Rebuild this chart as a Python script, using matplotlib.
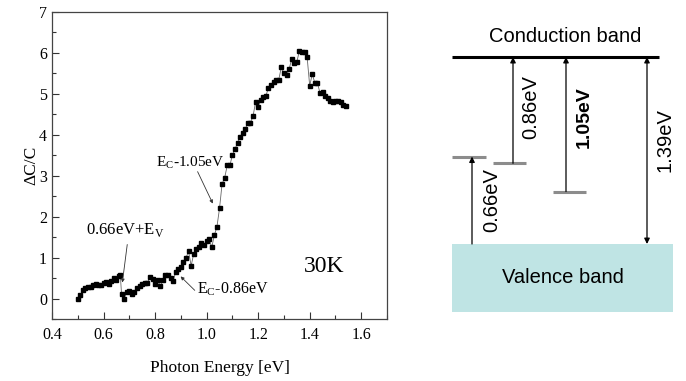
import numpy as np
import matplotlib
matplotlib.use("Agg")
import matplotlib.pyplot as plt
from matplotlib.patches import Rectangle
from matplotlib.ticker import MultipleLocator

# ---- spectrum (30K) ------------------------------------------------------
energy = [0.50, 0.51, 0.52, 0.53, 0.54, 0.55, 0.56, 0.57, 0.58, 0.59,
          0.60, 0.61, 0.62, 0.63, 0.64, 0.65, 0.66, 0.665, 0.67, 0.68,
          0.69, 0.70, 0.71, 0.72, 0.73, 0.74, 0.75, 0.76, 0.77, 0.78,
          0.79, 0.80, 0.81, 0.82, 0.83, 0.84, 0.85, 0.86, 0.87, 0.88,
          0.89, 0.90, 0.91, 0.92, 0.93, 0.94, 0.95, 0.96, 0.97, 0.98,
          0.99, 1.00, 1.01, 1.02, 1.03, 1.04, 1.05, 1.06, 1.07, 1.08,
          1.09, 1.10, 1.11, 1.12, 1.13, 1.14, 1.15, 1.16, 1.17, 1.18,
          1.19, 1.20, 1.21, 1.22, 1.23, 1.24, 1.25, 1.26, 1.27, 1.28,
          1.29, 1.30, 1.31, 1.32, 1.33, 1.34, 1.35, 1.36, 1.37, 1.38,
          1.39, 1.40, 1.41, 1.42, 1.43, 1.44, 1.45, 1.46, 1.47, 1.48,
          1.49, 1.50, 1.51, 1.52, 1.53, 1.54]
dcc = [0.00, 0.08, 0.20, 0.25, 0.27, 0.28, 0.33, 0.35, 0.33, 0.33,
       0.38, 0.40, 0.35, 0.43, 0.50, 0.45, 0.55, 0.58, 0.10, 0.00,
       0.15, 0.18, 0.12, 0.15, 0.25, 0.30, 0.35, 0.38, 0.38, 0.52,
       0.47, 0.35, 0.45, 0.30, 0.45, 0.58, 0.58, 0.50, 0.43, 0.65,
       0.72, 0.77, 0.90, 1.00, 1.15, 0.80, 1.10, 1.20, 1.25, 1.35,
       1.30, 1.40, 1.45, 1.25, 1.55, 1.75, 2.20, 2.80, 2.95, 3.25,
       3.25, 3.50, 3.65, 3.80, 3.95, 4.05, 4.15, 4.28, 4.30, 4.45,
       4.80, 4.68, 4.85, 4.92, 4.95, 5.15, 5.22, 5.28, 5.35, 5.35,
       5.65, 5.50, 5.45, 5.60, 5.85, 5.75, 5.78, 6.05, 6.03, 6.02,
       5.90, 5.20, 5.48, 5.27, 5.27, 5.02, 5.05, 4.95, 4.90, 4.82,
       4.80, 4.82, 4.82, 4.80, 4.72, 4.70]

# ---- band diagram (eV above valence band edge) ---------------------------
gap = 1.39
trap_labels = ["0.66eV", "0.86eV", "1.05eV"]
trap_pos = [0.65, 0.60, 0.39]      # drawn level heights

serif = "Liberation Serif"
sans = "Liberation Sans"

fig = plt.figure(figsize=(6.86, 3.81), dpi=100)
ax = fig.add_axes([52 / 686, 62 / 381, 335 / 686, 307 / 381])

ax.plot(energy, dcc, "-", color="#666666", lw=0.6, zorder=1)
ax.plot(energy, dcc, "s", color="black", ms=3.2, mec="black", zorder=2)

ax.set_xlim(0.4, 1.7)
ax.set_ylim(-0.5, 7)
ax.xaxis.set_minor_locator(MultipleLocator(0.1))
ax.yaxis.set_minor_locator(MultipleLocator(0.5))
ax.set_xticks([0.4, 0.6, 0.8, 1.0, 1.2, 1.4, 1.6])
ax.set_xticklabels(["0.4", "0.6", "0.8", "1.0", "1.2", "1.4", "1.6"])
ax.set_yticks(range(0, 8))
ax.tick_params(which="both", direction="in", top=False, right=False,
               color="#333333", labelsize=11.5)
ax.tick_params(which="major", length=5, width=0.8)
ax.tick_params(which="minor", length=3, width=0.8)
ax.tick_params(axis="x", pad=6)
for lab in ax.get_xticklabels() + ax.get_yticklabels():
    lab.set_fontfamily(serif)
for s in ax.spines.values():
    s.set_color("#444444")
    s.set_linewidth(0.9)

ax.set_xlabel("Photon Energy [eV]", family=serif, fontsize=12.5, labelpad=12)
ax.set_ylabel("ΔC/C", family=serif, fontsize=12.5, labelpad=0)

arrow = dict(arrowstyle="-|>", lw=0.6, color="#333333", mutation_scale=5,
             shrinkA=0, shrinkB=0)
ax.annotate("", xy=(1.024, 2.32), xytext=(0.965, 3.1), arrowprops=arrow)
ax.text(0.938, 3.32, r"E$_\mathregular{C}$-1.05eV", family=serif,
        fontsize=11, ha="center", va="center")
ax.annotate("", xy=(0.673, 0.39), xytext=(0.692, 1.32), arrowprops=arrow)
ax.text(0.685, 1.68, r"0.66eV+E$_\mathregular{V}$", family=serif,
        fontsize=12, ha="center", va="center")
ax.annotate("", xy=(0.899, 0.54), xytext=(0.954, 0.2), arrowprops=arrow)
ax.text(0.962, 0.22, r"E$_\mathregular{C}$-0.86eV", family=serif,
        fontsize=11.5, ha="left", va="center")
ax.text(1.457, 0.78, "30K", family=serif, fontsize=17, ha="center",
        va="center")

# ---- band diagram --------------------------------------------------------
bx = fig.add_axes([440 / 686, 0, 246 / 686, 1])
bx.set_xlim(440, 686)
bx.set_ylim(-137 / 134.5, 244 / 134.5)
bx.axis("off")

bx.plot([452, 659], [gap, gap], color="black", lw=2.2, solid_capstyle="butt")
bx.add_patch(Rectangle((452, -0.506), 221, 0.506, color="#bfe4e4", lw=0))
bx.text(565, gap + 0.155, "Conduction band", family=sans, fontsize=14.5,
        ha="center", va="center")
bx.text(563, -0.25, "Valence band", family=sans, fontsize=14.5,
        ha="center", va="center")

arr = dict(arrowstyle="-|>", lw=0.9, color="black", mutation_scale=8,
           shrinkA=0, shrinkB=0)
darr = dict(arrowstyle="<|-|>", lw=0.9, color="black", mutation_scale=8,
            shrinkA=0, shrinkB=0)

# 0.66 eV above valence band
bx.plot([452, 486], [trap_pos[0]] * 2, color="#8c8c8c", lw=2.2,
        solid_capstyle="butt")
bx.annotate("", xy=(472, trap_pos[0]), xytext=(472, 0), arrowprops=arr)
bx.text(492, 0.33, trap_labels[0], family=sans, fontsize=14.5, rotation=90,
        ha="center", va="center")

# 0.86 eV below conduction band
bx.plot([493, 526], [trap_pos[1]] * 2, color="#8c8c8c", lw=2.2,
        solid_capstyle="butt")
bx.annotate("", xy=(513, gap), xytext=(513, trap_pos[1]), arrowprops=arr)
bx.text(531, 1.02, trap_labels[1], family=sans, fontsize=14.5, rotation=90,
        ha="center", va="center")

# 1.05 eV below conduction band
bx.plot([553, 586], [trap_pos[2]] * 2, color="#8c8c8c", lw=2.2,
        solid_capstyle="butt")
bx.annotate("", xy=(566, gap), xytext=(566, trap_pos[2]), arrowprops=arr)
bx.text(584, 0.94, trap_labels[2], family=sans, fontsize=14, rotation=90,
        fontweight="bold", ha="center", va="center")

# band gap
bx.annotate("", xy=(647, gap), xytext=(647, 0), arrowprops=darr)
bx.text(665, 0.77, f"{gap:.2f}eV", family=sans, fontsize=14.5, rotation=90,
        ha="center", va="center")

fig.savefig("out.png", dpi=100)
